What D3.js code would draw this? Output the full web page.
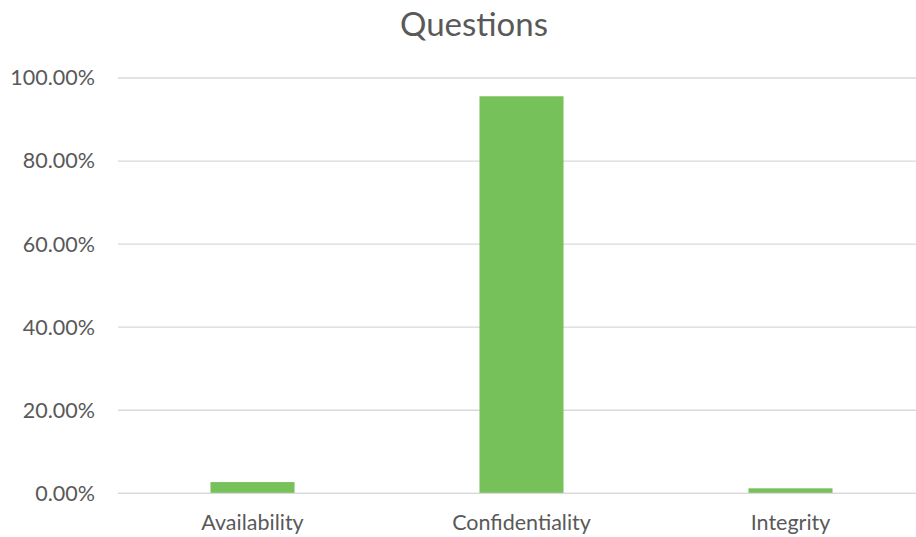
<!DOCTYPE html>
<html>
<head>
<meta charset="utf-8">
<script src="https://cdn.jsdelivr.net/npm/d3@7"></script>
<style>
  html, body { margin: 0; padding: 0; background: #fff; }
  svg { display: block; }
  text { font-family: Lato, "Open Sans", "Liberation Sans", sans-serif; fill: #595959; }
</style>
</head>
<body>
<svg id="chart" width="916" height="537"></svg>
<script>
// Share of questions per security property
const categories = ["Availability", "Confidentiality", "Integrity"];
const shares = [0.027, 0.956, 0.012];
const yTicks = [0, 0.2, 0.4, 0.6, 0.8, 1.0];
const chartTitle = "Questions";

const W = 916, H = 537;
const plot = { left: 118, right: 925, top: 78, bottom: 493.3 };

const svg = d3.select("#chart");

const x = d3.scaleBand().domain(categories).range([plot.left, plot.right]).padding(0);
const y = d3.scaleLinear().domain([0, 1]).range([plot.bottom, plot.top]);
const barW = x.bandwidth() * 0.3125;

// Gridlines
svg.append("g")
  .selectAll("line")
  .data(yTicks)
  .join("line")
  .attr("x1", plot.left)
  .attr("x2", W)
  .attr("y1", d => y(d))
  .attr("y2", d => y(d))
  .attr("stroke", "#d9d9d9")
  .attr("stroke-width", 1.3);

// Y axis labels
const yAxis = d3.axisLeft(y)
  .tickValues(yTicks)
  .tickFormat(d3.format(".2%"))
  .tickSize(0)
  .tickPadding(0);
const yg = svg.append("g").attr("transform", "translate(95,0)").call(yAxis);
yg.select(".domain").remove();
yg.selectAll("text")
  .attr("font-size", 21.5)
  .attr("fill", "#595959")
  .style("font-family", "Lato, 'Open Sans', sans-serif");

// Bars
svg.append("g")
  .selectAll("rect")
  .data(categories.map((c, i) => ({ c, v: shares[i] })))
  .join("rect")
  .attr("x", d => x(d.c) + (x.bandwidth() - barW) / 2)
  .attr("y", d => y(d.v))
  .attr("width", barW)
  .attr("height", d => y(0) - y(d.v))
  .attr("fill", "#76c159");

// Baseline over the bars
svg.append("line")
  .attr("x1", plot.left).attr("x2", W)
  .attr("y1", y(0)).attr("y2", y(0))
  .attr("stroke", "#d9d9d9").attr("stroke-width", 1.3);

// Category labels
const xAxis = d3.axisBottom(x).tickSize(0).tickPadding(0);
const xg = svg.append("g").attr("transform", "translate(0,515)").call(xAxis);
xg.select(".domain").remove();
xg.selectAll("text")
  .attr("font-size", 21.5)
  .attr("fill", "#595959")
  .style("font-family", "Lato, 'Open Sans', sans-serif");

// Title
svg.append("text")
  .attr("x", 474)
  .attr("y", 36)
  .attr("text-anchor", "middle")
  .attr("font-size", 33)
  .text(chartTitle);
</script>
</body>
</html>
